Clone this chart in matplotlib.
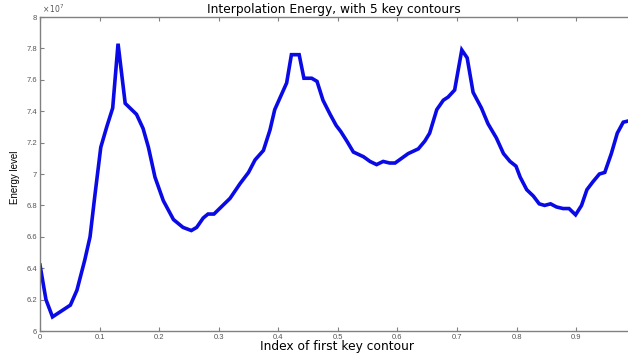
"""Interpolation energy curve, 5 key contours."""

import matplotlib.pyplot as plt
from matplotlib.ticker import FuncFormatter

# index of first key contour and energy level (units of 1e7)
index = [0.0, 0.01, 0.021, 0.051, 0.062, 0.075, 0.084, 0.092, 0.102, 0.112,
         0.122, 0.131, 0.143, 0.162, 0.173, 0.182, 0.193, 0.207, 0.224, 0.240,
         0.254, 0.263, 0.274, 0.282, 0.292, 0.319, 0.336, 0.350, 0.361, 0.375,
         0.386, 0.394, 0.414, 0.422, 0.435, 0.443, 0.456, 0.465, 0.475, 0.487,
         0.497, 0.505, 0.515, 0.526, 0.543, 0.554, 0.565, 0.576, 0.587, 0.596,
         0.607, 0.618, 0.635, 0.646, 0.654, 0.666, 0.677, 0.685, 0.696, 0.708,
         0.717, 0.727, 0.741, 0.752, 0.766, 0.778, 0.789, 0.799, 0.806, 0.817,
         0.828, 0.838, 0.847, 0.857, 0.867, 0.878, 0.888, 0.899, 0.909, 0.918,
         0.928, 0.939, 0.948, 0.959, 0.969, 0.979, 0.99]
energy = [6.42, 6.20, 6.09, 6.165, 6.26, 6.45, 6.60, 6.86, 7.17, 7.30,
          7.42, 7.83, 7.45, 7.38, 7.29, 7.17, 6.98, 6.83, 6.71, 6.66,
          6.64, 6.66, 6.72, 6.745, 6.745, 6.845, 6.94, 7.01, 7.09, 7.15,
          7.28, 7.41, 7.58, 7.76, 7.76, 7.61, 7.61, 7.59, 7.47, 7.38,
          7.31, 7.27, 7.21, 7.14, 7.11, 7.08, 7.06, 7.08, 7.07, 7.07,
          7.10, 7.13, 7.16, 7.21, 7.26, 7.41, 7.47, 7.49, 7.535, 7.79,
          7.74, 7.52, 7.42, 7.32, 7.23, 7.13, 7.08, 7.05, 6.98, 6.90,
          6.86, 6.81, 6.80, 6.81, 6.79, 6.78, 6.78, 6.74, 6.80, 6.90,
          6.95, 7.00, 7.01, 7.13, 7.26, 7.33, 7.34]

x_ticks = [0, 0.1, 0.2, 0.3, 0.4, 0.5, 0.6, 0.7, 0.8, 0.9]
y_ticks = [6, 6.2, 6.4, 6.6, 6.8, 7, 7.2, 7.4, 7.6, 7.8, 8]

plt.rcParams["font.family"] = ["Liberation Sans", "DejaVu Sans"]
grey = "#808080"

fig = plt.figure(figsize=(6.28, 3.58), dpi=100)
ax = fig.add_axes([0.0637, 0.0754, 0.9363, 0.8771])
ax.plot(index, energy, color="#0a0ae6", linewidth=2.6, solid_joinstyle="miter")

ax.set_xlim(0, 0.987)
ax.set_ylim(6, 8)
ax.set_xticks(x_ticks)
ax.set_yticks(y_ticks)
ax.xaxis.set_major_formatter(FuncFormatter(lambda v, _: f"{v:g}"))
ax.yaxis.set_major_formatter(FuncFormatter(lambda v, _: f"{v:g}"))
ax.tick_params(direction="in", length=3, width=0.8, colors=grey,
               labelsize=5.5, labelcolor="#555555", top=True, pad=2)
for side in ["left", "bottom", "top"]:
    ax.spines[side].set_color(grey)
    ax.spines[side].set_linewidth(1.0)
ax.spines["right"].set_visible(False)

ax.text(0.003, 1.005, r"$\times\,10^7$", transform=ax.transAxes,
        fontsize=5.5, color="#555555", va="bottom", ha="left")
ax.set_title("Interpolation Energy, with 5 key contours", fontsize=8.8, pad=3,
             family="DejaVu Sans")
ax.set_xlabel("Index of first key contour", fontsize=8.8, family="DejaVu Sans")
ax.set_ylabel("Energy level", fontsize=7)
ax.xaxis.set_label_coords(0.505, -0.03)
ax.yaxis.set_label_coords(-0.034, 0.49)

fig.savefig("out.png", dpi=100)
